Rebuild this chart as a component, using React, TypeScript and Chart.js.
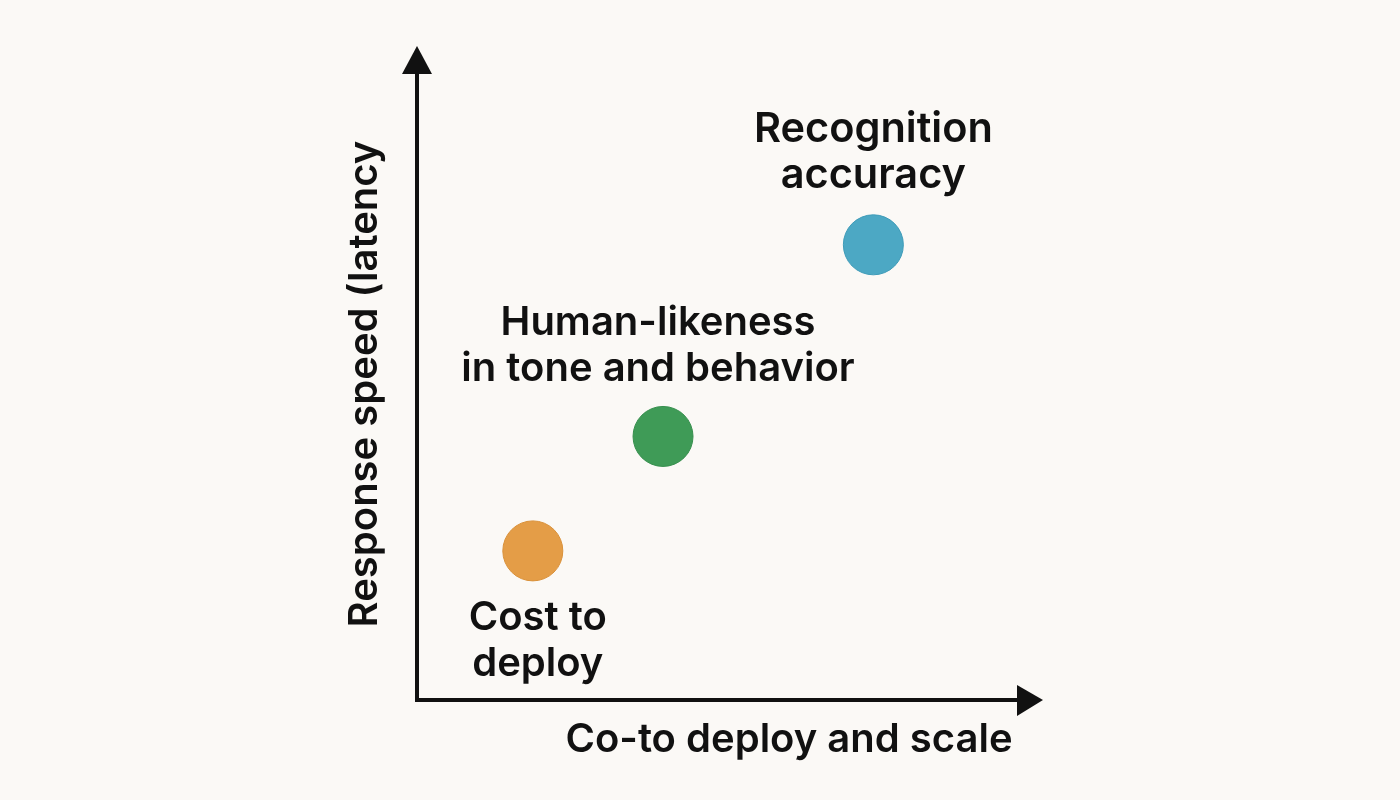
import React, { useEffect, useRef } from "react";
import { Chart, registerables } from "chart.js";

Chart.register(...registerables);

// ---- data ----
const pointNames = ["Cost to deploy", "Human-likeness in tone and behavior", "Recognition accuracy"];
const labelLines = [["Cost to", "deploy"], ["Human-likeness", "in tone and behavior"], ["Recognition", "accuracy"]];
const xValues = [1.85, 3.93, 7.29];
const yValues = [2.28, 4.03, 6.96];
const xAxisTitle = "Co-to deploy and scale";
const yAxisTitle = "Response speed (latency";

// ---- styles ----
const pointColors = ["#E49D47", "#3F9B57", "#4CA8C4"];
const pointBorders = ["#DA9139", "#38904F", "#3F9CB9"];
// label placement relative to point: [dx, dy of first baseline]
const labelPlacement = [
  [5, 79],
  [-5, -101],
  [0, -103],
];
const LINE_GAP = 46;
const BG = "#FBF9F6";
const INK = "#111111";
const FONT = "600 40px Inter, 'Noto Sans', sans-serif";
const FONT_BIG = "600 41.5px Inter, 'Noto Sans', sans-serif";

const decorPlugin = {
  id: "decor",
  beforeDraw(chart: any) {
    const { ctx, width, height } = chart;
    ctx.save();
    ctx.fillStyle = BG;
    ctx.fillRect(0, 0, width, height);
    ctx.restore();
  },
  beforeDatasetsDraw(chart: any) {
    const { ctx, chartArea } = chart;
    const { left, right, top, bottom } = chartArea;
    ctx.save();
    ctx.strokeStyle = INK;
    ctx.fillStyle = INK;
    ctx.lineWidth = 4;
    ctx.lineCap = "butt";
    ctx.beginPath();
    ctx.moveTo(left, top + 20);
    ctx.lineTo(left, bottom);
    ctx.lineTo(right - 20, bottom);
    ctx.stroke();
    // y arrow
    ctx.beginPath();
    ctx.moveTo(left, top);
    ctx.lineTo(left - 15, top + 28);
    ctx.lineTo(left + 15, top + 28);
    ctx.closePath();
    ctx.fill();
    // x arrow
    ctx.beginPath();
    ctx.moveTo(right, bottom);
    ctx.lineTo(right - 26, bottom - 15);
    ctx.lineTo(right - 26, bottom + 16);
    ctx.closePath();
    ctx.fill();

    // axis titles
    ctx.font = FONT;
    ctx.textAlign = "center";
    ctx.textBaseline = "alphabetic";
    ctx.fillText(xAxisTitle, 789, 752);
    ctx.translate(377, 384);
    ctx.rotate(-Math.PI / 2);
    ctx.fillText(yAxisTitle, 0, 0);
    ctx.restore();
  },
  afterDatasetsDraw(chart: any) {
    const { ctx } = chart;
    const xs = chart.scales.x;
    const ys = chart.scales.y;
    ctx.save();
    ctx.fillStyle = INK;
    ctx.textAlign = "center";
    ctx.textBaseline = "alphabetic";
    labelLines.forEach((lines, i) => {
      const px = xs.getPixelForValue(xValues[i]);
      const py = ys.getPixelForValue(yValues[i]);
      const [dx, dy] = labelPlacement[i];
      ctx.font = i === 2 ? FONT_BIG : FONT;
      lines.forEach((line, j) => {
        ctx.fillText(line, px + dx, py + dy + j * LINE_GAP);
      });
    });
    ctx.restore();
  },
};

export default function App() {
  const ref = useRef<HTMLCanvasElement | null>(null);
  useEffect(() => {
    document.body.style.margin = "0";
    document.body.style.background = BG;
    const canvas = ref.current!;
    const chart = new Chart(canvas, {
      type: "scatter",
      data: {
        datasets: [
          {
            label: "Factors",
            data: xValues.map((x, i) => ({ x, y: yValues[i] })),
            backgroundColor: pointColors,
            borderColor: pointBorders,
            borderWidth: 1,
            pointRadius: 30,
            pointHoverRadius: 30,
          },
        ],
      },
      options: {
        responsive: false,
        animation: false,
        devicePixelRatio: 1,
        layout: { padding: { left: 417, top: 46, right: 357, bottom: 100 } },
        plugins: { legend: { display: false }, tooltip: { enabled: false } },
        scales: {
          x: { type: "linear", min: 0, max: 10, display: false },
          y: { type: "linear", min: 0, max: 10, display: false },
        },
      },
      plugins: [decorPlugin],
    });
    return () => chart.destroy();
  }, []);
  return (
    <div style={{ position: "fixed", left: 0, top: 0, width: 1400, height: 800, background: BG }}>
      <canvas ref={ref} width={1400} height={800} aria-label={pointNames.join(", ")} />
    </div>
  );
}
